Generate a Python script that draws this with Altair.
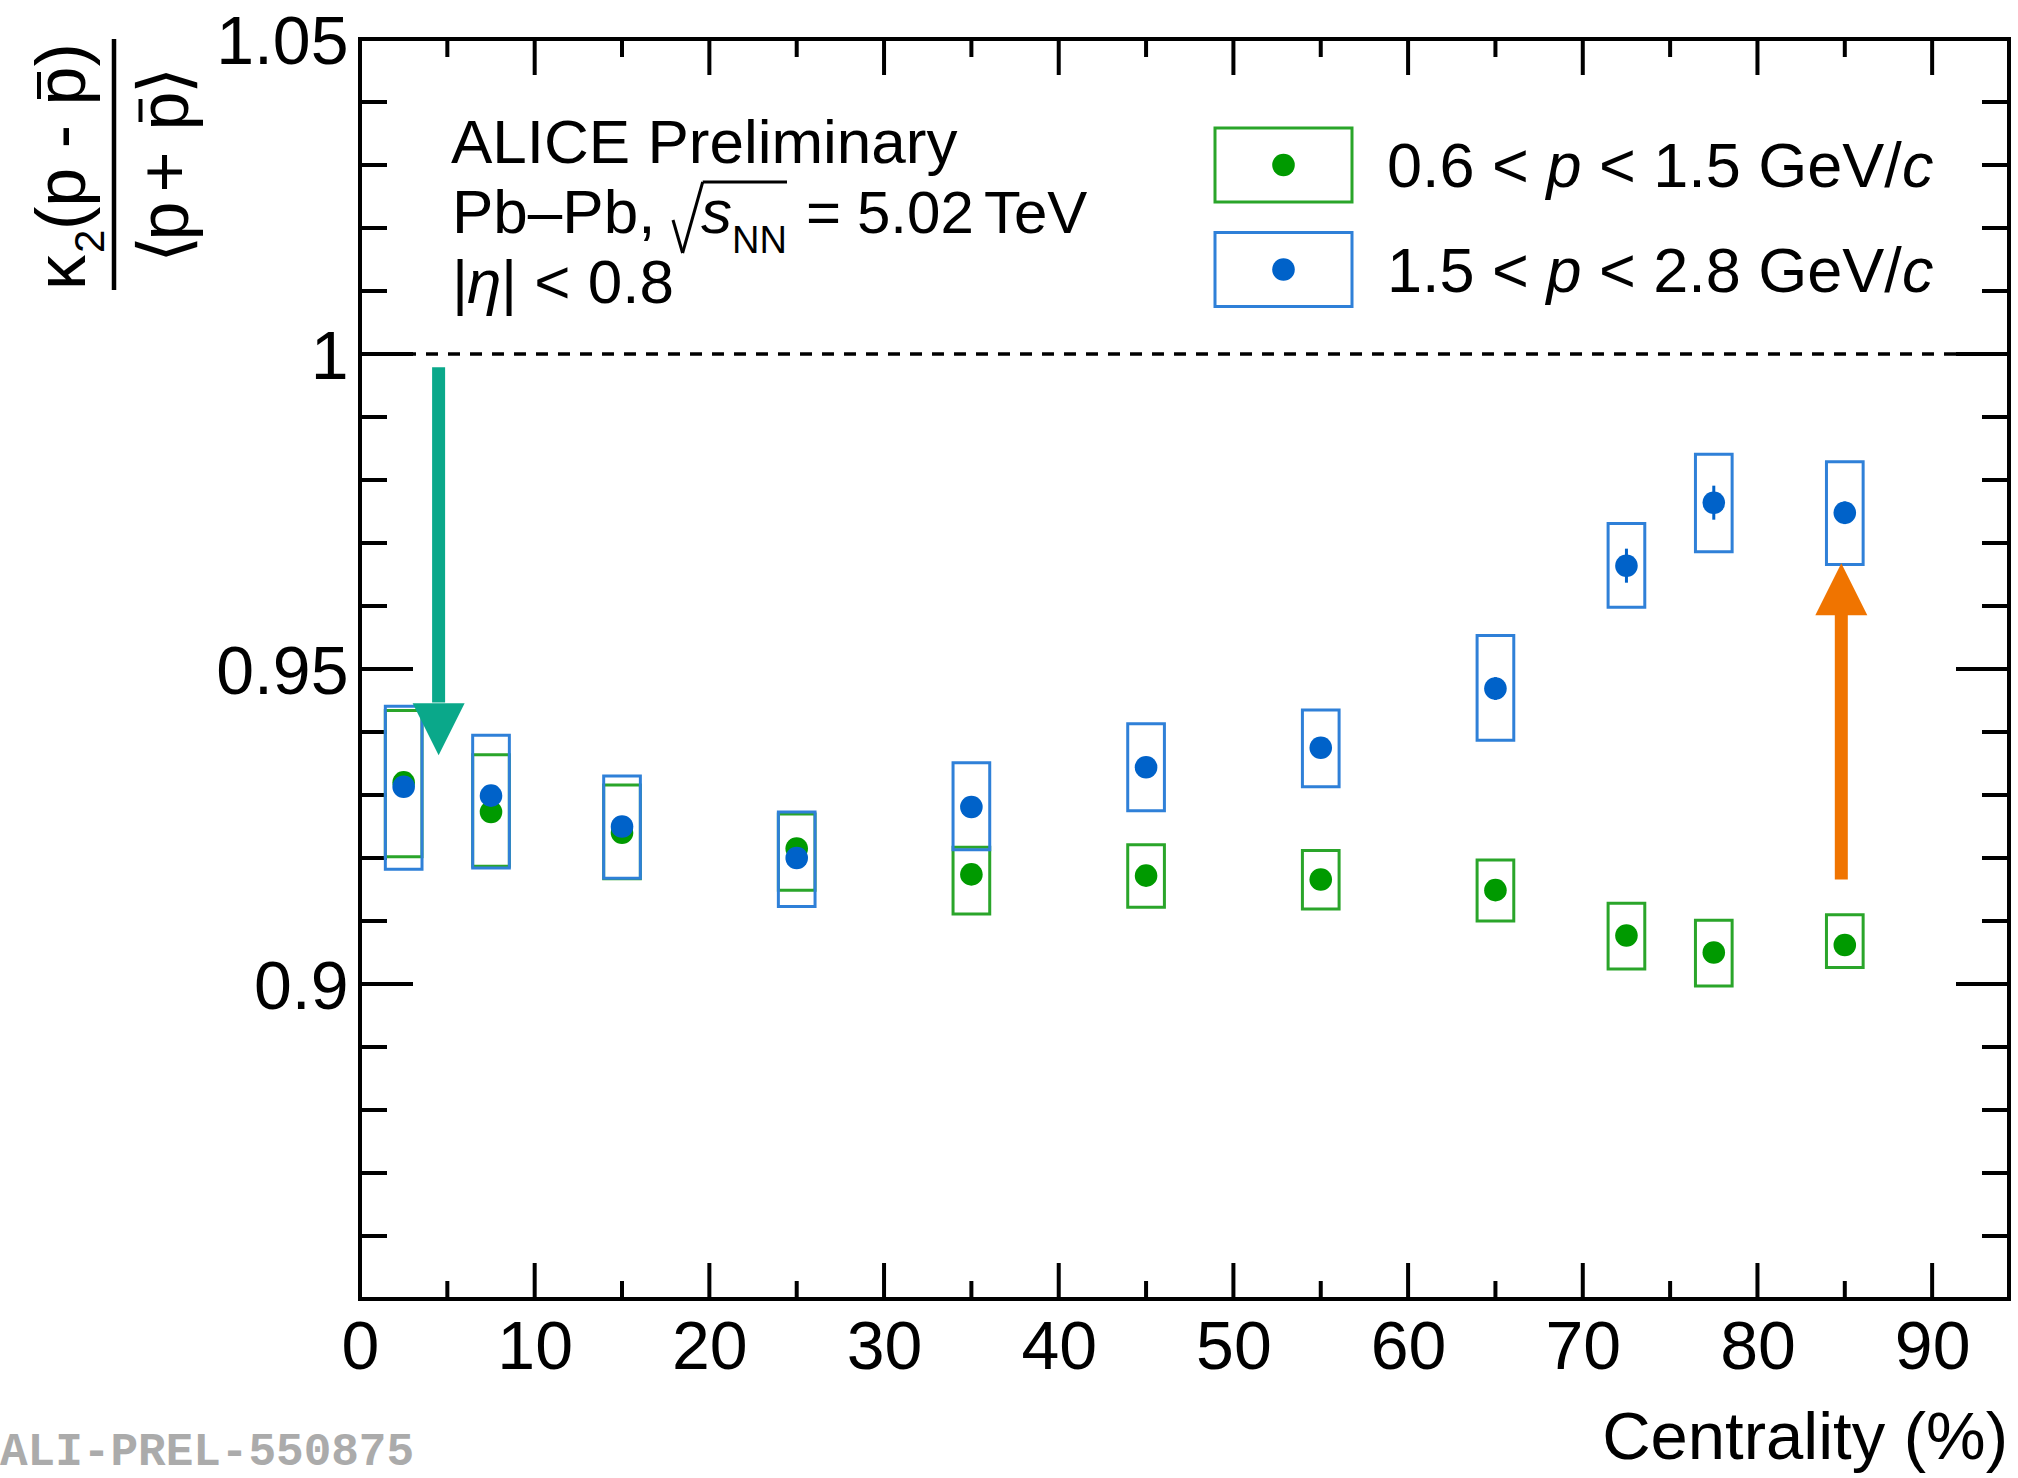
import altair as alt
import pandas as pd

# ---------------- data ----------------
centrality = [2.5, 7.5, 15, 25, 35, 45, 55, 65, 72.5, 77.5, 85]

green_val = [0.9320, 0.9273, 0.9240, 0.9215, 0.9174, 0.9172, 0.9166, 0.9149, 0.9077, 0.9050, 0.9062]
green_stat = [0.0005, 0.0005, 0.0005, 0.0006, 0.0007, 0.0007, 0.0008, 0.0009, 0.0011, 0.0012, 0.0010]
green_sys_lo = [0.9202, 0.9187, 0.9167, 0.9149, 0.9111, 0.9122, 0.9119, 0.9100, 0.9024, 0.8997, 0.9026]
green_sys_hi = [0.9434, 0.9364, 0.9316, 0.9270, 0.9217, 0.9221, 0.9212, 0.9197, 0.9128, 0.9101, 0.9110]

blue_val = [0.9313, 0.9299, 0.9250, 0.9200, 0.9281, 0.9344, 0.9375, 0.9469, 0.9664, 0.9764, 0.9748]
blue_stat = [0.0010, 0.0010, 0.0011, 0.0012, 0.0014, 0.0015, 0.0016, 0.0018, 0.0027, 0.0027, 0.0018]
blue_sys_lo = [0.9182, 0.9184, 0.9168, 0.9123, 0.9213, 0.9275, 0.9313, 0.9387, 0.9598, 0.9686, 0.9666]
blue_sys_hi = [0.9441, 0.9395, 0.9330, 0.9273, 0.9351, 0.9413, 0.9435, 0.9553, 0.9731, 0.9841, 0.9829]

series_labels = ["0.6 < p < 1.5 GeV/c", "1.5 < p < 2.8 GeV/c"]

# arrows: x position, start value, head-base value, tip value
arrow_teal = [4.5, 0.9979, 0.9447, 0.9363]
arrow_orange = [84.8, 0.9166, 0.9587, 0.9668]

x_major = [10, 20, 30, 40, 50, 60, 70, 80, 90]
x_minor = [5, 15, 25, 35, 45, 55, 65, 75, 85]
x_labels = [0, 10, 20, 30, 40, 50, 60, 70, 80, 90]
y_major = [0.90, 0.95, 1.00]
y_minor = [0.86, 0.87, 0.88, 0.89, 0.91, 0.92, 0.93, 0.94,
           0.96, 0.97, 0.98, 0.99, 1.01, 1.02, 1.03, 1.04]
y_labels = [0.90, 0.95, 1.00, 1.05]
x_domain = [0, 94.4]
y_domain = [0.85, 1.05]
reference_line = [1.0]

# ---------------- layout / style ----------------
OX, OY = 360, 39          # plot-area origin on the page
W, H = 1649, 1260         # plot-area size
BOX_HALF = 1.05           # half width of the systematic boxes (centrality units)
FONT = "Liberation Sans"
GREEN_MK, GREEN_BOX = "#009a00", "#2aa52a"
BLUE_MK, BLUE_BOX = "#0062c9", "#2f80d8"
TEAL, ORANGE = "#0aa88a", "#f07400"
MK_SIZE = 510

xs = alt.Scale(domain=x_domain, nice=False, zero=False)
ys = alt.Scale(domain=y_domain, nice=False, zero=False)
x_axis = alt.Axis(values=x_labels, title="", labelFontSize=68, labelPadding=15,
                  labelFont=FONT, labelColor="black", ticks=False, tickSize=0,
                  domain=False, grid=False, labelFlush=False, labelOverlap=False)
y_axis = alt.Axis(values=y_labels, format=".2~f", title="", labelFontSize=68,
                  labelPadding=12, labelOffset=4, labelFont=FONT, labelColor="black",
                  ticks=False, tickSize=0, domain=False, grid=False, labelFlush=False,
                  labelOverlap=False)


def X(f):
    return alt.X(f, type="quantitative", scale=xs, axis=x_axis)


def Y(f):
    return alt.Y(f, type="quantitative", scale=ys, axis=y_axis)


def make_df(val, stat, lo, hi):
    return pd.DataFrame({
        "cent": centrality,
        "val": val,
        "elo": [v - s for v, s in zip(val, stat)],
        "ehi": [v + s for v, s in zip(val, stat)],
        "slo": lo,
        "shi": hi,
        "xlo": [c - BOX_HALF for c in centrality],
        "xhi": [c + BOX_HALF for c in centrality],
    })


gdf = make_df(green_val, green_stat, green_sys_lo, green_sys_hi)
bdf = make_df(blue_val, blue_stat, blue_sys_lo, blue_sys_hi)
ONE = pd.DataFrame({"k": [0]})


def boxes(df, color):
    return alt.Chart(df).mark_rect(fillOpacity=0, stroke=color, strokeWidth=3).encode(
        x=X("xlo"), x2="xhi", y=Y("slo"), y2="shi")


def stat_bars(df, color):
    return alt.Chart(df).mark_rule(color=color, strokeWidth=3).encode(
        x=X("cent"), y=Y("elo"), y2="ehi")


def points(df, color):
    return alt.Chart(df).mark_circle(size=MK_SIZE, color=color, opacity=1).encode(
        x=X("cent"), y=Y("val"))


# frame ticks (inside)
def xticks(vals, length):
    d = pd.DataFrame({"t": vals})
    bot = alt.Chart(d).mark_rule(color="black", strokeWidth=4).encode(
        x=X("t"), y=alt.value(H), y2=alt.value(H - length))
    top = alt.Chart(d).mark_rule(color="black", strokeWidth=4).encode(
        x=X("t"), y=alt.value(0), y2=alt.value(length))
    return [bot, top]


def yticks(vals, length):
    d = pd.DataFrame({"t": vals})
    left = alt.Chart(d).mark_rule(color="black", strokeWidth=4).encode(
        y=Y("t"), x=alt.value(0), x2=alt.value(length))
    right = alt.Chart(d).mark_rule(color="black", strokeWidth=4).encode(
        y=Y("t"), x=alt.value(W), x2=alt.value(W - length))
    return [left, right]


ref = alt.Chart(pd.DataFrame({"r": reference_line})).mark_rule(
    color="black", strokeWidth=3.5, strokeDash=[12, 10]).encode(
    y=Y("r"), x=alt.value(0), x2=alt.value(W))


def arrow(spec, color, down):
    d = pd.DataFrame({"x": [spec[0]], "a": [spec[1]], "b": [spec[2]], "tip": [spec[3]]})
    shaft = alt.Chart(d).mark_rule(color=color, strokeWidth=13, strokeCap="butt").encode(
        x=X("x"), y=Y("a"), y2="b")
    path = "M-1,-2L1,-2L0,0Z" if down else "M-1,2L1,2L0,0Z"
    head = alt.Chart(d).mark_point(shape=path, size=2704, filled=True, fill=color,
                                   strokeWidth=0, opacity=1).encode(x=X("x"), y=Y("tip"))
    return [shaft, head]


# ---------------- annotation helpers (page pixel coordinates) ----------------
ARIAL = {" ": 278, "0": 556, "1": 556, "2": 556, "3": 556, "4": 556, "5": 556,
         "6": 556, "7": 556, "8": 556, "9": 556, ".": 278, ",": 278, "<": 584,
         "=": 584, "+": 584, "-": 333, "/": 278, "|": 260, "(": 333, ")": 333,
         "G": 778, "e": 556, "V": 667, "c": 500, "p": 556, "T": 611, "η": 556}


def tw(s, size):
    return sum(ARIAL.get(ch, 556) for ch in s) * size / 1000.0


def text(t, px, py, size, style="normal", angle=0, align="left",
         baseline="alphabetic", font=FONT, color="black", weight="normal"):
    return alt.Chart(ONE).mark_text(
        text=t, font=font, fontSize=size, fontStyle=style, angle=angle, align=align,
        baseline=baseline, color=color, fontWeight=weight).encode(
        x=alt.value(px - OX), y=alt.value(py - OY))


def seg_line(segs, x0, py, size):
    out, x = [], x0
    for s, style in segs:
        lead = len(s) - len(s.lstrip(" "))
        out.append(text(s.strip(), x + tw(" " * lead, size), py, size, style=style))
        x += tw(s, size)
    return out


def line(x1, y1, x2, y2, w=3, color="black"):
    return alt.Chart(ONE).mark_rule(color=color, strokeWidth=w).encode(
        x=alt.value(x1 - OX), y=alt.value(y1 - OY), x2=alt.value(x2 - OX),
        y2=alt.value(y2 - OY))


def rect(x1, y1, x2, y2, color):
    return alt.Chart(ONE).mark_rect(fillOpacity=0, stroke=color, strokeWidth=3).encode(
        x=alt.value(x1 - OX), y=alt.value(y1 - OY), x2=alt.value(x2 - OX),
        y2=alt.value(y2 - OY))


def dot(px, py, color):
    return alt.Chart(ONE).mark_circle(size=MK_SIZE, color=color, opacity=1).encode(
        x=alt.value(px - OX), y=alt.value(py - OY))


ann = []
# header text
ann.append(text("ALICE Preliminary", 451, 163, 62))
ann.append(text("Pb\u2013Pb,", 452, 233, 62))
ann += [line(673, 220, 682.6, 253), line(682.6, 253, 702.7, 182), line(702.7, 182, 787, 182)]
ann.append(text("s", 701, 233, 62, style="italic"))
ann.append(text("NN", 732, 253, 38))
ann.append(text("=", 806, 233, 60))
ann.append(text("5.02", 857, 233, 60))
ann.append(text("TeV", 984, 233, 60))
ann.append(text("|", 452, 303, 62))
ann.append(text("\u03b7", 467, 303, 62, style="italic"))
ann.append(text("| < 0.8", 501, 303, 62))

# legend
for i, (lab, box_c, mk_c) in enumerate([(series_labels[0], GREEN_BOX, GREEN_MK),
                                       (series_labels[1], BLUE_BOX, BLUE_MK)]):
    dy = i * 104.5
    ann.append(rect(1215, 128 + dy, 1352, 202 + dy, box_c))
    ann.append(dot(1283.5, 165 + dy, mk_c))
    a, rest = lab.split(" p ", 1)
    b = rest[:-1]
    ann += seg_line([(a + " ", "normal"), ("p", "italic"), (" " + b, "normal"),
                     ("c", "italic")], 1387, 187 + dy, 63)

# y-axis title (rotated fraction)
ann.append(text("\u03ba", 85, 290, 70, angle=270))
ann.append(text("2", 104, 253, 42, angle=270))
ann.append(text("(p - p)", 85, 230, 70, angle=270))
ann.append(line(39, 99, 39, 72, w=4))
ann.append(line(114, 39, 114, 290, w=4.5))
ann.append(text("\u27e8", 188, 249, 70, angle=270, align="center"))
ann.append(text("p", 188, 221, 70, angle=270, align="center"))
ann.append(text("+", 188, 172, 70, angle=270, align="center"))
ann.append(text("p", 188, 111, 70, angle=270, align="center"))
ann.append(text("\u27e9", 188, 80, 70, angle=270, align="center"))
ann.append(line(140.5, 122, 140.5, 99, w=4))

# x-axis title and preliminary tag
ann.append(text("Centrality (%)", 2008, 1459, 67, align="right"))
ann.append(text("ALI-PREL-550875", 0, 1465, 46, font="Liberation Mono",
                color="#ababab", weight="bold"))

layers = []
layers += xticks(x_major, 36) + xticks(x_minor, 18)
layers += yticks(y_major, 53) + yticks(y_minor, 27)
layers.append(ref)
layers += [boxes(gdf, GREEN_BOX), boxes(bdf, BLUE_BOX)]
layers += [stat_bars(gdf, GREEN_MK), points(gdf, GREEN_MK)]
layers += [stat_bars(bdf, BLUE_MK), points(bdf, BLUE_MK)]
layers += arrow(arrow_teal, TEAL, True) + arrow(arrow_orange, ORANGE, False)
layers += ann

chart = alt.layer(*layers).properties(
    width=W, height=H,
    autosize=alt.AutoSizeParams(type="none"),
    padding={"left": OX, "top": OY, "right": 2018 - OX - W, "bottom": 1478 - OY - H},
    background="white",
).configure_view(stroke="black", strokeWidth=4)

chart.save("out.html", embed_options={"renderer": "svg", "actions": False})
